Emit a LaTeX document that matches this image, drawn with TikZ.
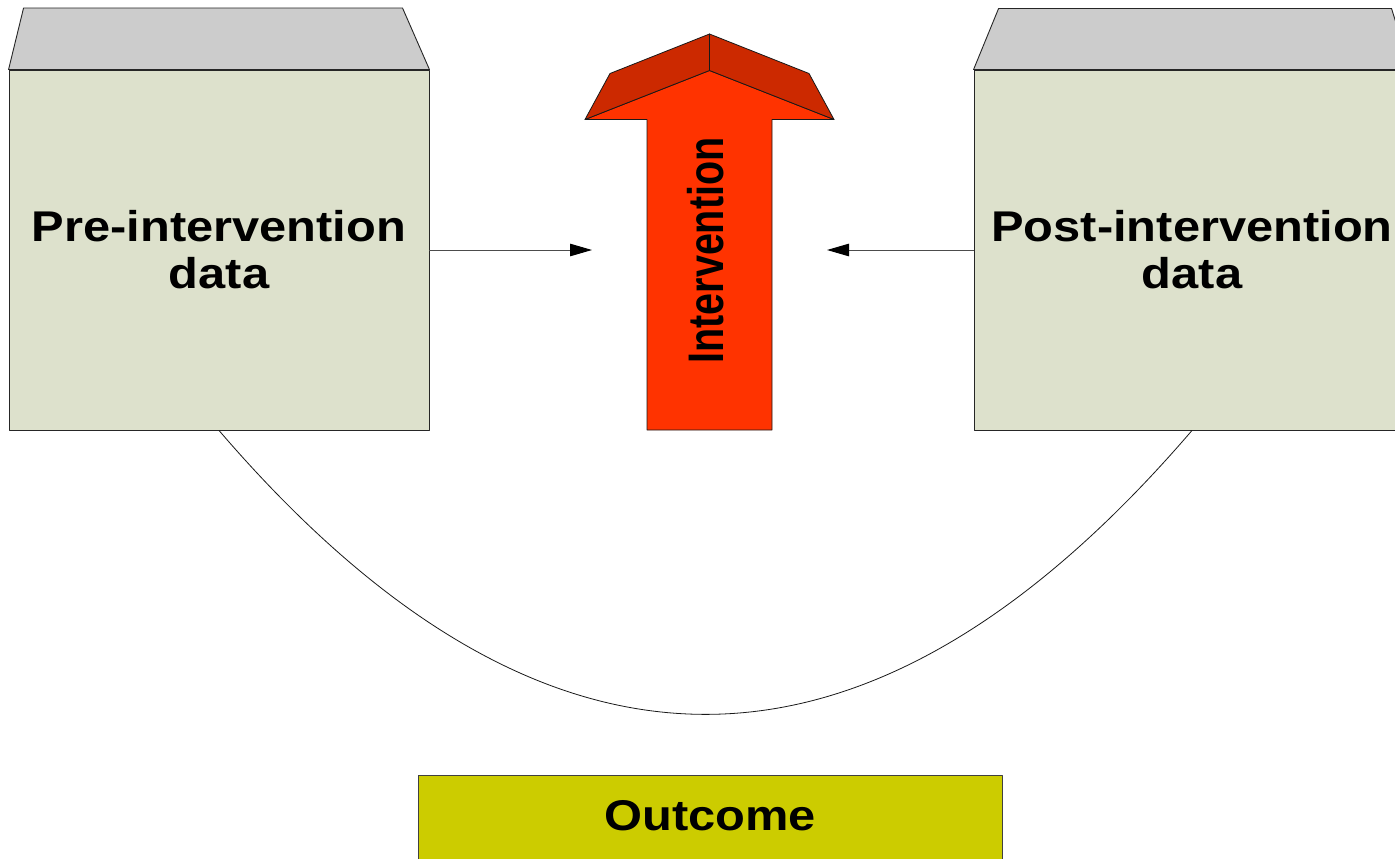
\documentclass[tikz,border=0pt]{standalone}
\usepackage{fontspec}
\setmainfont{Liberation Sans}
\newfontfamily\wideFont[FakeStretch=1.135]{Liberation Sans}
\newfontfamily\narrowFont[FakeStretch=0.79]{Liberation Sans}
\usetikzlibrary{arrows.meta}
\definecolor{boxfill}{HTML}{DDE1CC}
\definecolor{topfill}{HTML}{CCCCCC}
\definecolor{arrowfill}{HTML}{FF3300}
\definecolor{bevelfill}{HTML}{CC2900}
\definecolor{outfill}{HTML}{CCCC00}
\begin{document}
\begin{tikzpicture}[x=1pt,y=-1pt,line join=round,
  databox/.style={draw=black!85,line width=0.9pt,fill=boxfill,minimum height=360pt,inner sep=0pt,
    font=\wideFont\bfseries\fontsize{43}{47}\selectfont,align=center},
  topface/.style={draw=black!85,line width=0.9pt,fill=topfill},
  arrowbody/.style={draw=black!90,line width=0.8pt,fill=arrowfill},
  arrowbevel/.style={draw=black!90,line width=0.8pt,fill=bevelfill},
  conn/.style={draw=black!70,line width=1pt,-{Triangle[length=22pt,width=12.5pt,color=black,fill=black]}},
  curveline/.style={draw=black!90,line width=0.8pt},
  outbox/.style={draw=black!75,line width=0.9pt,fill=outfill,minimum width=584pt,minimum height=105pt,inner sep=0pt},
  labeltext/.style={font=\wideFont\bfseries\fontsize{43}{47}\selectfont,inner sep=0pt},
  verttext/.style={font=\narrowFont\bfseries\fontsize{50}{52}\selectfont,inner sep=0pt,rotate=90}]
\useasboundingbox (0,0) rectangle (1395,859);

% data boxes
\node[databox,minimum width=420pt] (pre) at (219,250) {Pre-intervention\\data};
\node[databox,minimum width=436pt] (post) at (1192,250) {Post-intervention\\data};
\draw[topface] (pre.north west) -- ++(15,-61.5) -- ++(379,0) -- (pre.north east) -- cycle;
\draw[topface] (post.north west) -- ++(25,-61) -- ++(393,0) -- (post.north east) -- cycle;

% intervention arrow
\draw[arrowbody] (647,430) -- (647,119.5) -- (585,119.5) -- (709.5,70.5) -- (834,119.5) -- (772,119.5) -- (772,430) -- cycle;
\draw[arrowbevel] (585,119.5) -- (610,73.5) -- (709.5,34) -- (709.5,70.5) -- cycle;
\draw[arrowbevel] (834,119.5) -- (809,73.5) -- (709.5,34) -- (709.5,70.5) -- cycle;
\node[verttext] (int) at (706,250.5) {Intervention};

% connectors
\coordinate (intL) at (592,250);
\coordinate (intR) at (827,250);
\draw[conn] (pre.east) -- (intL);
\draw[conn] (post.west) -- (intR);

% curve
\draw[curveline] (pre.south) .. controls (544,809) and (867,809) .. (post.south);

% outcome
\node[outbox] (out) at (710,827.5) {};
\node[labeltext] (outtxt) at (710,816) {Outcome};
\end{tikzpicture}
\end{document}
